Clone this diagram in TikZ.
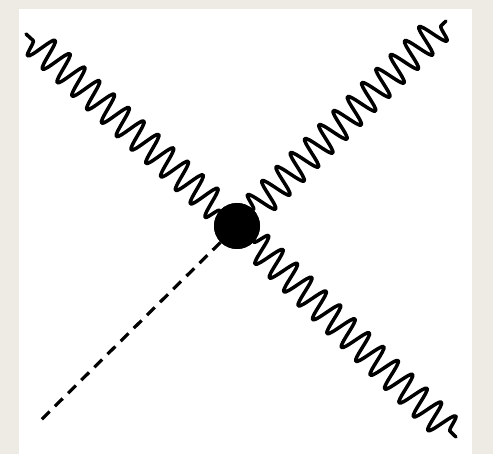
\documentclass[tikz,border=0pt]{standalone}
\usetikzlibrary{decorations.pathmorphing}
\definecolor{bgbeige}{HTML}{EEEBE4}
\tikzset{
  photon/.style={line width=3.5pt, line join=round, line cap=round, decorate,
    decoration={snake, segment length=20pt, amplitude=15pt}},
  scalar/.style={line width=3.2pt, dash pattern=on 11pt off 7.5pt},
  vertex/.style={circle, fill=black, inner sep=0pt, minimum size=46pt}
}
\begin{document}
\begin{tikzpicture}[x=1pt,y=-1pt]
  \useasboundingbox (0,0) rectangle (493,454);
  \fill[bgbeige] (0,0) rectangle (493,454);
  \fill[white] (19,9) rectangle (472,454);
  \node[vertex] (v) at (237,226) {};
  \coordinate (ul) at (26,34);
  \coordinate (ur) at (446,21);
  \coordinate (lr) at (456,437);
  \coordinate (ll) at (38,423);
  \draw[photon] (v) -- (ul);
  \draw[photon] (v) -- (ur);
  \draw[photon] (v) -- (lr);
  \draw[scalar] (v) -- (ll);
  \node[vertex] at (v) {};
\end{tikzpicture}
\end{document}
